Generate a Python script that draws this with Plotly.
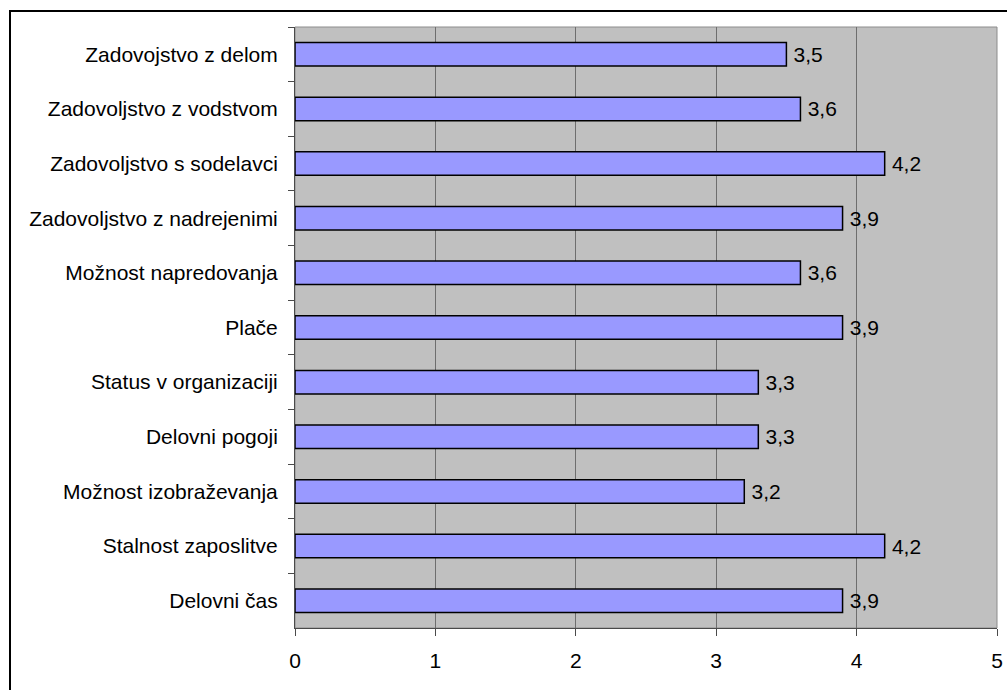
import plotly.graph_objects as go

# Survey satisfaction scores, listed top to bottom
categories = [
    "Zadovojstvo z delom",
    "Zadovoljstvo z vodstvom",
    "Zadovoljstvo s sodelavci",
    "Zadovoljstvo z nadrejenimi",
    "Možnost napredovanja",
    "Plače",
    "Status v organizaciji",
    "Delovni pogoji",
    "Možnost izobraževanja",
    "Stalnost zaposlitve",
    "Delovni čas",
]
scores = [3.5, 3.6, 4.2, 3.9, 3.6, 3.9, 3.3, 3.3, 3.2, 4.2, 3.9]
x_ticks = [0, 1, 2, 3, 4, 5]

# value labels with a decimal comma, nudged off the bar end by a thin space
labels = ["\u2009" + f"{v:.1f}".replace(".", ",") for v in scores]

W, H = 1007, 690
L, T, R, B = 295, 27, 10, 62
pw, ph = W - L - R, H - T - B

fig = go.Figure(
    go.Bar(
        x=scores,
        y=categories,
        orientation="h",
        marker=dict(color="#9999FF", line=dict(color="#000000", width=1.5)),
        text=labels,
        textposition="outside",
        textfont=dict(size=21, color="#000000"),
        cliponaxis=False,
        hoverinfo="skip",
    )
)

font = "Liberation Sans, Arial, sans-serif"

# outer frame around the whole chart (extends past the right/bottom edge)
fx0 = (10 - L) / pw
fx1 = (W + 10 - L) / pw
fy1 = (H - B - 11) / ph
fy0 = (H - B - (H + 10)) / ph

fig.update_layout(
    width=W,
    height=H,
    autosize=False,
    margin=dict(l=L, r=R, t=T, b=B, pad=0, autoexpand=False),
    paper_bgcolor="#FFFFFF",
    plot_bgcolor="#C0C0C0",
    bargap=0.57,
    showlegend=False,
    font=dict(family=font, size=21, color="#000000"),
    separators=", ",
    xaxis=dict(
        range=[0, 5],
        automargin=False,
        tickvals=x_ticks,
        ticktext=[str(t) for t in x_ticks],
        showgrid=True,
        gridcolor="#6E6E6E",
        gridwidth=1,
        zeroline=False,
        showline=True,
        linecolor="#4A4A4A",
        linewidth=1,
        ticks="outside",
        ticklen=7,
        tickcolor="#4A4A4A",
        ticklabelstandoff=7,
        tickfont=dict(size=21, color="#000000"),
    ),
    yaxis=dict(
        autorange="reversed",
        automargin=False,
        showgrid=False,
        showline=True,
        linecolor="#4A4A4A",
        linewidth=1,
        ticks="outside",
        ticklen=6,
        tickcolor="#4A4A4A",
        tickson="boundaries",
        ticklabelstandoff=12,
        tickfont=dict(size=21, color="#000000"),
    ),
    shapes=[
        dict(
            type="rect", xref="paper", yref="paper",
            x0=0, x1=1, y0=0, y1=1,
            line=dict(color="#8C8C8C", width=1),
            layer="below",
        ),
        dict(
            type="rect", xref="paper", yref="paper",
            x0=fx0, x1=fx1, y0=fy0, y1=fy1,
            line=dict(color="#000000", width=2),
            fillcolor="rgba(0,0,0,0)",
            layer="above",
        ),
    ],
)

fig.write_html("out.html")
